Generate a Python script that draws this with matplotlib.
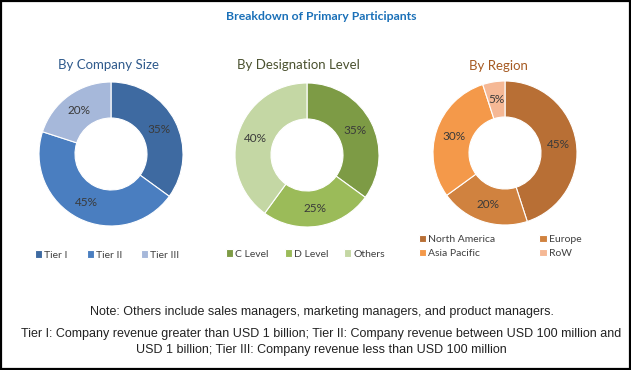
import matplotlib
matplotlib.use("Agg")
import matplotlib.pyplot as plt
from matplotlib.patches import Rectangle

# ---- data ----
main_title = "Breakdown of Primary Participants"

size_title = "By Company Size"
size_labels = ["Tier I", "Tier II", "Tier III"]
size_values = [35, 45, 20]

desig_title = "By Designation Level"
desig_labels = ["C Level", "D Level", "Others"]
desig_values = [35, 25, 40]

region_title = "By Region"
region_labels = ["North America", "Europe", "Asia Pacific", "RoW"]
region_values = [45, 20, 30, 5]

note_text = "Note: Others include sales managers, marketing managers, and product managers."
tier_text = ("Tier I: Company revenue greater than USD 1 billion; Tier II: Company revenue between USD 100 million and\n"
             "USD 1 billion; Tier III: Company revenue less than USD 100 million")

# ---- styles ----
size_colors = ["#3E6AA1", "#4A7EC0", "#A6B8DA"]
desig_colors = ["#7D9B45", "#9BBB59", "#C4D7A4"]
region_colors = ["#B86F35", "#D0823F", "#F4994A", "#F5B895"]

W, H = 631, 370
fig = plt.figure(figsize=(W / 100, H / 100), dpi=100)
fig.patch.set_facecolor("white")

FONT = ["Lato", "DejaVu Sans"]
NOTEFONT = ["Liberation Sans Narrow", "Liberation Sans", "DejaVu Sans"]


def fx(x):
    return x / W


def fy(y):
    return 1 - y / H


R = 72


def donut(cx, cy, values, colors, title, tcolor, tx, ty):
    ax = fig.add_axes([fx(cx - R), fy(cy + R), R * 2 / W, R * 2 / H])
    wedges, texts, autotexts = ax.pie(
        values, colors=colors, startangle=90, counterclock=False,
        radius=1.0, autopct=lambda p: f"{p:.0f}%", pctdistance=0.75,
        wedgeprops=dict(width=0.5, edgecolor="white", linewidth=0.8),
        textprops=dict(color="#3A3A3A", fontsize=8.5, family=FONT))
    ax.set_xlim(-1, 1)
    ax.set_ylim(-1, 1)
    ax.set_aspect("equal")
    ax.axis("off")
    fig.text(fx(tx), fy(ty), title, ha="center", va="center",
             color=tcolor, fontsize=9.5, family=FONT)
    return wedges


w1 = donut(111, 154, size_values, size_colors, size_title, "#2F5A8C", 108, 65)
w2 = donut(307, 155, desig_values, desig_colors, desig_title, "#4B5230", 298, 65)
w3 = donut(505, 153, region_values, region_colors, region_title, "#A65A22", 498, 66)

fig.text(fx(321), fy(17), main_title, ha="center", va="center",
         color="#1A70B8", fontsize=8.8, fontweight="bold", family=FONT)

leg_kw = dict(frameon=False, borderpad=0, borderaxespad=0,
              handlelength=0.7, handleheight=0.7, handletextpad=0.2,
              prop=dict(family=FONT, size=7.5), labelcolor="#404040")

l1 = fig.legend(w1, size_labels, loc="center left", ncol=3,
                bbox_to_anchor=(fx(35), fy(255)), columnspacing=1.8, **leg_kw)
l2 = fig.legend(w2, desig_labels, loc="center left", ncol=3,
                bbox_to_anchor=(fx(226), fy(254)), columnspacing=1.5, **leg_kw)
order = [0, 2, 1, 3]
l3 = fig.legend([w3[i] for i in order], [region_labels[i] for i in order],
                loc="center left", ncol=2, bbox_to_anchor=(fx(419), fy(246.5)),
                columnspacing=4.2, labelspacing=0.45, **leg_kw)

fig.text(fx(322), fy(312), note_text, ha="center", va="center",
         color="#222222", fontsize=9, family=NOTEFONT)
fig.text(fx(321), fy(342), tier_text, ha="center", va="center",
         color="#222222", fontsize=9, family=NOTEFONT, linespacing=1.45)

fig.patches.append(Rectangle((0.001, 0.002), 0.997, 0.996, transform=fig.transFigure,
                             fill=False, edgecolor="black", linewidth=1.6))

fig.savefig("out.png", dpi=100)
